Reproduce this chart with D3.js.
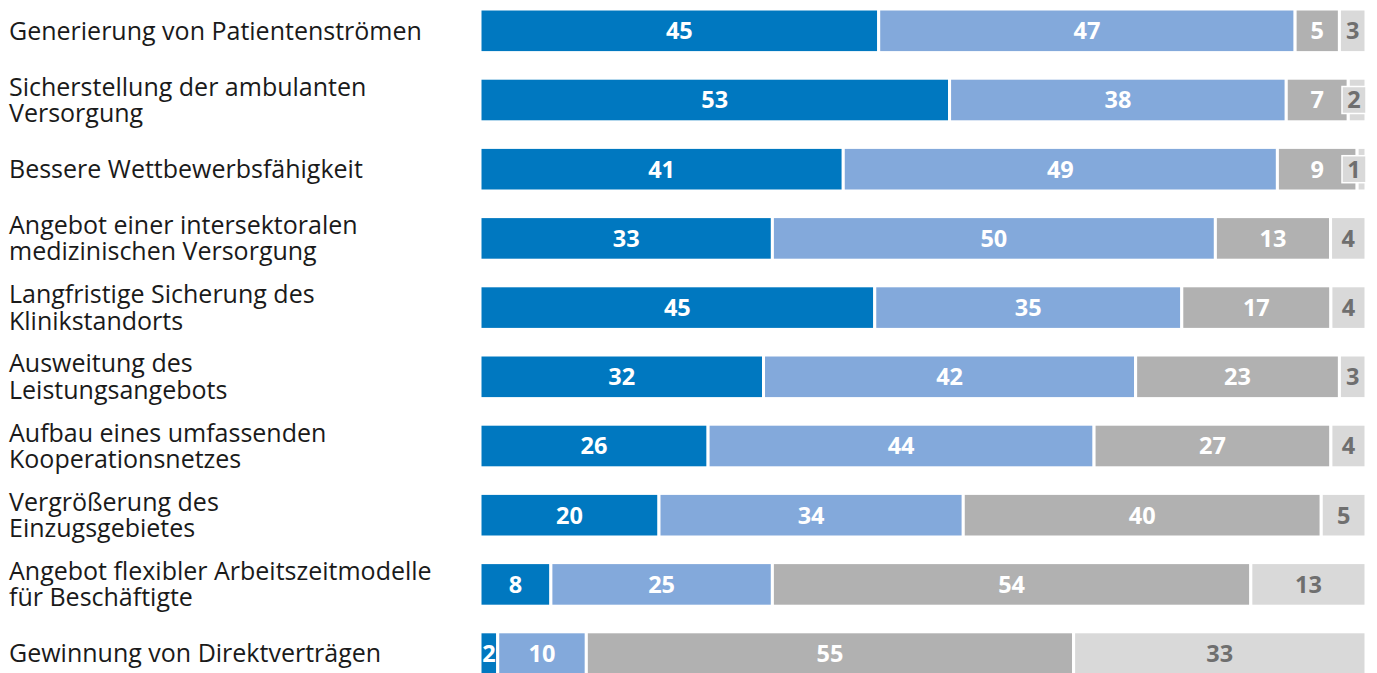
<!DOCTYPE html>
<html>
<head>
<meta charset="utf-8">
<script src="https://cdn.jsdelivr.net/npm/d3@7"></script>
<style>
  body { margin: 0; background: #fff; }
  svg { display: block; }
</style>
</head>
<body>
<div id="chart"></div>
<script>
const categories = [
    ["Generierung von Patientenströmen"],
    ["Sicherstellung der ambulanten", "Versorgung"],
    ["Bessere Wettbewerbsfähigkeit"],
    ["Angebot einer intersektoralen", "medizinischen Versorgung"],
    ["Langfristige Sicherung des", "Klinikstandorts"],
    ["Ausweitung des", "Leistungsangebots"],
    ["Aufbau eines umfassenden", "Kooperationsnetzes"],
    ["Vergrößerung des", "Einzugsgebietes"],
    ["Angebot flexibler Arbeitszeitmodelle", "für Beschäftigte"],
    ["Gewinnung von Direktverträgen"]
];
const s1 = [45, 53, 41, 33, 45, 32, 26, 20, 8, 2];
const s2 = [47, 38, 49, 50, 35, 42, 44, 34, 25, 10];
const s3 = [5, 7, 9, 13, 17, 23, 27, 40, 54, 55];
const s4 = [3, 2, 1, 4, 4, 3, 4, 5, 13, 33];

const keys = ["s1", "s2", "s3", "s4"];
const colors = ["#0078c0", "#83a9db", "#b1b1b1", "#d9d9d9"];
const textColors = ["#ffffff", "#ffffff", "#ffffff", "#6f6f6f"];

const rows = categories.map((c, i) => ({ id: i, label: c, s1: s1[i], s2: s2[i], s3: s3[i], s4: s4[i] }));

const width = 1377, height = 673;
const svg = d3.select("#chart").append("svg")
    .attr("width", width)
    .attr("height", height);

const x = d3.scaleLinear().domain([0, 1]).range([480, 1366]);
const y = d3.scaleBand()
    .domain(rows.map(d => d.id))
    .range([-3.8, 688.2])
    .paddingInner(0.37)
    .paddingOuter(0.185);

const stacked = d3.stack().keys(keys).offset(d3.stackOffsetExpand)(rows);

// category labels, one text per line
const lab = svg.append("g")
    .style("font-family", "'Open Sans', sans-serif")
    .style("font-size", "25px")
    .style("fill", "#1a1a1a");

rows.forEach(d => {
    const cy = y(d.id) + y.bandwidth() / 2;
    const n = d.label.length;
    const lh = 26.5;
    d.label.forEach((line, j) => {
        lab.append("text")
            .attr("x", 9)
            .attr("y", cy - (n - 1) * lh / 2 + j * lh)
            .attr("dy", "0.35em")
            .text(line);
    });
});

// bars
stacked.forEach((layer, k) => {
    svg.append("g").selectAll("rect")
        .data(layer)
        .enter()
        .append("rect")
        .attr("x", d => x(d[0]))
        .attr("y", d => y(d.data.id))
        .attr("width", d => x(d[1]) - x(d[0]))
        .attr("height", y.bandwidth())
        .attr("fill", colors[k])
        .attr("stroke", "#fff")
        .attr("stroke-width", 3);
});

// value labels
stacked.forEach((layer, k) => {
    const g = svg.append("g")
        .style("font-family", "'Open Sans', sans-serif")
        .style("font-size", "23.5px")
        .style("font-weight", 700);
    layer.forEach(d => {
        const v = d.data[keys[k]];
        const x0 = x(d[0]), x1 = x(d[1]);
        const cy = y(d.data.id) + y.bandwidth() / 2;
        const w = x1 - x0;
        let cx = (x0 + x1) / 2;
        if (w < 22 && k === 3) {
            // narrow last segment: label in a small box at the bar end
            const bw = 24, bh = 27;
            g.append("rect")
                .attr("x", x1 - bw)
                .attr("y", cy - bh / 2)
                .attr("width", bw)
                .attr("height", bh)
                .attr("fill", colors[k])
                .attr("stroke", "#fff")
                .attr("stroke-width", 1.5);
            cx = x1 - bw / 2;
        }
        g.append("text")
            .attr("x", cx)
            .attr("y", cy)
            .attr("dy", "0.36em")
            .attr("text-anchor", "middle")
            .style("fill", textColors[k])
            .text(v);
    });
});
</script>
</body>
</html>
